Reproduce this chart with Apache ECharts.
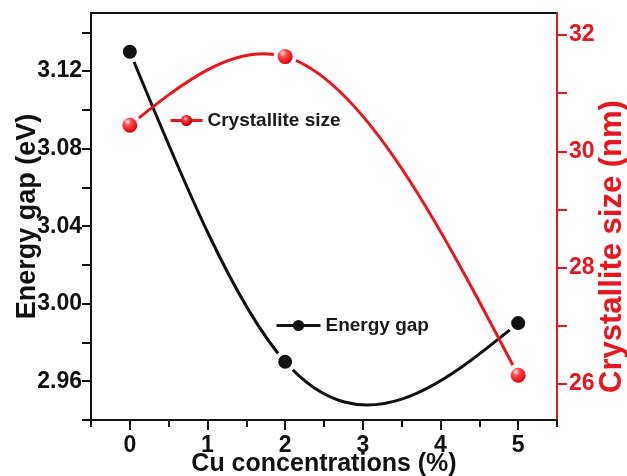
<!DOCTYPE html>
<html>
<head>
<meta charset="utf-8">
<script src="https://cdn.jsdelivr.net/npm/echarts@6/dist/echarts.min.js"></script>
<style>
  html, body { margin: 0; padding: 0; background: #fff; }
  #chart { width: 627px; height: 476px; }
</style>
</head>
<body>
<div id="chart"></div>
<script>
// Cu doping level (%) and the two measured quantities
const cuConcentration = [0, 2, 5];
const energyGap = [3.13, 2.97, 2.99];          // eV
const crystalliteSize = [30.45, 31.63, 26.15]; // nm

// Tick positions
const xMajorTicks = [0, 1, 2, 3, 4, 5];
const xMinorTicks = [-0.5, 0.5, 1.5, 2.5, 3.5, 4.5, 5.5];
const gapTicks = [2.94, 2.96, 2.98, 3.00, 3.02, 3.04, 3.06, 3.08, 3.10, 3.12, 3.14];
const gapLabels = [2.96, 3.00, 3.04, 3.08, 3.12];
const sizeTicks = [26, 27, 28, 29, 30, 31, 32];
const sizeLabels = [26, 28, 30, 32];

const RED = '#e8161e';
const BLACK = '#111';
const FONT = 'Liberation Sans, Arial, sans-serif';

const pairs = (xs, ys) => xs.map((x, i) => [x, ys[i]]);

// Knot slopes of a natural cubic spline through (xs, ys)
function splineSlopes(xs, ys) {
  const n = xs.length;
  const h = [], d = [];
  for (let i = 0; i < n - 1; i++) {
    h.push(xs[i + 1] - xs[i]);
    d.push((ys[i + 1] - ys[i]) / h[i]);
  }
  // second derivatives, M[0] = M[n-1] = 0 (Thomas algorithm)
  const M = new Array(n).fill(0);
  if (n > 2) {
    const a = [], b = [], c = [], r = [];
    for (let i = 1; i < n - 1; i++) {
      a.push(h[i - 1]); b.push(2 * (h[i - 1] + h[i])); c.push(h[i]);
      r.push(6 * (d[i] - d[i - 1]));
    }
    const m = b.length;
    for (let i = 1; i < m; i++) {
      const w = a[i] / b[i - 1];
      b[i] -= w * c[i - 1];
      r[i] -= w * r[i - 1];
    }
    const sol = new Array(m);
    sol[m - 1] = r[m - 1] / b[m - 1];
    for (let i = m - 2; i >= 0; i--) sol[i] = (r[i] - c[i] * sol[i + 1]) / b[i];
    for (let i = 0; i < m; i++) M[i + 1] = sol[i];
  }
  const s = [];
  for (let i = 0; i < n - 1; i++) s.push(d[i] - h[i] * (2 * M[i] + M[i + 1]) / 6);
  s.push(d[n - 2] + h[n - 2] * (M[n - 2] + 2 * M[n - 1]) / 6);
  return s;
}

// Custom series: spline drawn as cubic Bezier segments in axis coordinates
function splineSeries(xs, ys, yAxisIndex, color) {
  const slopes = splineSlopes(xs, ys);
  return {
    type: 'custom',
    xAxisIndex: 0,
    yAxisIndex: yAxisIndex,
    data: pairs(xs, ys),
    encode: { x: 0, y: 1 },
    silent: true,
    z: 2,
    renderItem: function (params, api) {
      if (params.dataIndex !== 0) return null;
      let p = api.coord([xs[0], ys[0]]);
      let path = 'M' + p[0] + ' ' + p[1];
      for (let i = 0; i < xs.length - 1; i++) {
        const h = xs[i + 1] - xs[i];
        const c1 = api.coord([xs[i] + h / 3, ys[i] + slopes[i] * h / 3]);
        const c2 = api.coord([xs[i + 1] - h / 3, ys[i + 1] - slopes[i + 1] * h / 3]);
        const p3 = api.coord([xs[i + 1], ys[i + 1]]);
        path += ' C' + c1[0] + ' ' + c1[1] + ' ' + c2[0] + ' ' + c2[1] + ' ' + p3[0] + ' ' + p3[1];
      }
      return {
        type: 'path',
        shape: { pathData: path },
        style: { fill: 'none', stroke: color, lineWidth: 3 }
      };
    }
  };
}

const redBall = {
  type: 'radial', x: 0.4, y: 0.35, r: 0.55,
  colorStops: [
    { offset: 0, color: '#ffe4e4' },
    { offset: 0.3, color: '#ff4a4a' },
    { offset: 0.75, color: '#e8101a' },
    { offset: 1, color: '#b00008' }
  ]
};

const chart = echarts.init(document.getElementById('chart'), null, { renderer: 'canvas' });

chart.setOption({
  animation: false,
  backgroundColor: '#fff',
  grid: {
    left: 91, right: 70, top: 13, bottom: 56,
    outerBoundsMode: 'none',
    show: true, borderColor: BLACK, borderWidth: 2, backgroundColor: 'transparent'
  },
  legend: [
    {
      data: ['Crystallite size'],
      left: 169, top: 111, padding: 0,
      itemWidth: 32, itemHeight: 14,
      itemStyle: { borderWidth: 0 },
      lineStyle: { color: RED, width: 3, opacity: 1 },
      textStyle: { fontFamily: FONT, fontWeight: 'bold', fontSize: 19, color: '#1a1a1a' }
    },
    {
      data: ['Energy gap'],
      left: 275, top: 316, padding: 0,
      itemWidth: 44, itemHeight: 14,
      itemStyle: { borderWidth: 0 },
      lineStyle: { color: BLACK, width: 3, opacity: 1 },
      textStyle: { fontFamily: FONT, fontWeight: 'bold', fontSize: 19, color: '#1a1a1a' }
    }
  ],
  xAxis: [
    {
      type: 'value', min: -0.5, max: 5.5,
      name: 'Cu concentrations (%)', nameLocation: 'middle', nameGap: 32, nameMoveOverlap: false,
      nameTextStyle: { fontFamily: FONT, fontWeight: 'bold', fontSize: 25, color: BLACK },
      axisLine: { show: true, onZero: false, lineStyle: { color: BLACK, width: 2 } },
      axisTick: { show: true, customValues: xMajorTicks, length: 10, lineStyle: { color: BLACK, width: 2 } },
      axisLabel: {
        show: true, customValues: xMajorTicks, margin: 14,
        fontFamily: FONT, fontWeight: 'bold', fontSize: 23, color: BLACK
      },
      splitLine: { show: false }
    },
    {
      type: 'value', min: -0.5, max: 5.5, position: 'bottom',
      axisLine: { show: false, onZero: false },
      axisTick: { show: true, customValues: xMinorTicks, length: 7, lineStyle: { color: BLACK, width: 2 } },
      axisLabel: { show: false },
      splitLine: { show: false }
    }
  ],
  yAxis: [
    {
      type: 'value', min: 2.94, max: 3.15, position: 'left',
      name: 'Energy gap (eV)', nameLocation: 'middle', nameGap: 50, nameMoveOverlap: false,
      nameTextStyle: { fontFamily: FONT, fontWeight: 'bold', fontSize: 27, color: BLACK },
      axisLine: { show: true, onZero: false, lineStyle: { color: BLACK, width: 2 } },
      axisTick: { show: true, customValues: gapTicks, length: 9, lineStyle: { color: BLACK, width: 2 } },
      axisLabel: {
        show: true, customValues: gapLabels, margin: 9,
        formatter: v => v.toFixed(2),
        fontFamily: FONT, fontWeight: 'bold', fontSize: 23, color: BLACK
      },
      splitLine: { show: false }
    },
    {
      type: 'value', min: 25.38, max: 32.38, position: 'right',
      name: 'Crystallite size (nm)', nameLocation: 'middle', nameGap: 40, nameMoveOverlap: false,
      nameTextStyle: { fontFamily: FONT, fontWeight: 'bold', fontSize: 31, color: RED, padding: [0, 60, 0, 0] },
      axisLine: { show: true, onZero: false, lineStyle: { color: RED, width: 2 } },
      axisTick: { show: true, customValues: sizeTicks, length: 10, lineStyle: { color: RED, width: 2 } },
      axisLabel: {
        show: true, customValues: sizeLabels, margin: 12,
        fontFamily: FONT, fontWeight: 'bold', fontSize: 23, color: RED
      },
      splitLine: { show: false }
    }
  ],
  series: [
    splineSeries(cuConcentration, energyGap, 0, BLACK),
    splineSeries(cuConcentration, crystalliteSize, 1, RED),
    {
      name: 'Energy gap',
      type: 'line',
      xAxisIndex: 0, yAxisIndex: 0,
      data: pairs(cuConcentration, energyGap),
      symbol: 'circle', symbolSize: 18,
      lineStyle: { opacity: 0 },
      itemStyle: { color: BLACK, borderColor: '#fff', borderWidth: 4 },
      z: 3
    },
    {
      name: 'Crystallite size',
      type: 'line',
      xAxisIndex: 0, yAxisIndex: 1,
      data: pairs(cuConcentration, crystalliteSize),
      symbol: 'circle', symbolSize: 19,
      lineStyle: { opacity: 0 },
      itemStyle: { color: redBall, borderColor: '#fff', borderWidth: 4 },
      z: 4
    }
  ]
});
</script>
</body>
</html>
